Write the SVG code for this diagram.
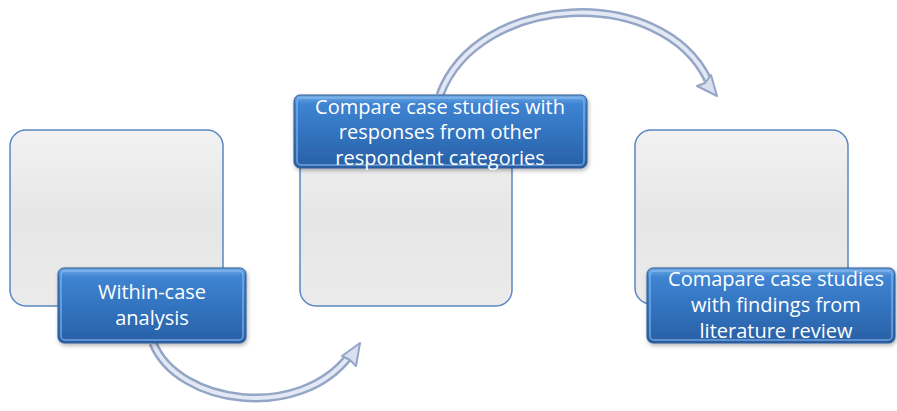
<svg xmlns="http://www.w3.org/2000/svg" width="897" height="411" viewBox="0 0 897 411">
<defs>
<linearGradient id="blueG" x1="0" y1="0" x2="0" y2="1">
<stop offset="0" stop-color="#74acE6"/>
<stop offset="0.12" stop-color="#3f84d2"/>
<stop offset="0.6" stop-color="#3070bb"/>
<stop offset="1" stop-color="#2a60a5"/>
</linearGradient>
<linearGradient id="greyG" x1="0" y1="0" x2="0" y2="1">
<stop offset="0" stop-color="#f2f2f2"/>
<stop offset="0.5" stop-color="#e6e6e6"/>
<stop offset="1" stop-color="#ebebeb"/>
</linearGradient>
<filter id="sh" x="-10%" y="-10%" width="130%" height="140%">
<feDropShadow dx="1" dy="2" stdDeviation="2" flood-color="#000" flood-opacity="0.3"/>
</filter>
</defs>
<style>
.grey{fill:url(#greyG);stroke:#5b86c2;stroke-width:1.5}
.blue{fill:url(#blueG);stroke:#2b5894;stroke-width:1;filter:url(#sh)}
.hl{fill:none;stroke:#8fbdf0;stroke-width:1.5;opacity:0.7}
.t{font-family:"Open Sans","Liberation Sans",sans-serif;font-size:20px;fill:#ffffff;text-anchor:middle}
.tube{fill:none;stroke:#94a5c6;stroke-width:9;stroke-linecap:butt}
.tubein{fill:none;stroke:#e3e9f4;stroke-width:4}
.head{fill:#d9e0ef;stroke:#94a5c6;stroke-width:2;stroke-linejoin:round}
</style>
<g id="connectors">
<path class="tube" d="M153,343 C178,405 300,422 350,355"/>
<path class="tubein" d="M153,343 C178,405 300,422 350,355"/>
<polygon class="head" points="360,343 356,366 350,360 342,356"/>
<path class="tube" d="M440,95 C478,-8 662,-16 708,80"/>
<path class="tubein" d="M440,95 C478,-8 662,-16 708,80"/>
<polygon class="head" points="717,96 697,86 705,83 711,75"/>
</g>
<g id="node1">
<rect class="grey" x="10" y="130" width="213" height="176" rx="16"/>
<rect class="blue" x="58" y="268" width="188" height="75" rx="6"/>
<rect class="hl" x="61" y="271" width="182" height="69" rx="4"/>
<text class="t" x="152" y="299">Within-case</text>
<text class="t" x="152" y="325">analysis</text>
</g>
<g id="node2">
<rect class="grey" x="300" y="130" width="212" height="176" rx="16"/>
<rect class="blue" x="294" y="95" width="293" height="73" rx="6"/>
<rect class="hl" x="297" y="98" width="287" height="67" rx="4"/>
<text class="t" x="440" y="113.5">Compare case studies with</text>
<text class="t" x="440" y="139">responses from other</text>
<text class="t" x="440" y="164.5">respondent categories</text>
</g>
<g id="node3">
<rect class="grey" x="635" y="130" width="213" height="174" rx="16"/>
<rect class="blue" x="647" y="268" width="248" height="75" rx="6"/>
<rect class="hl" x="650" y="271" width="242" height="69" rx="4"/>
<text class="t" x="776" y="285.5">Comapare case studies</text>
<text class="t" x="776" y="311.5">with findings from</text>
<text class="t" x="776" y="337.5">literature review</text>
</g>
</svg>
